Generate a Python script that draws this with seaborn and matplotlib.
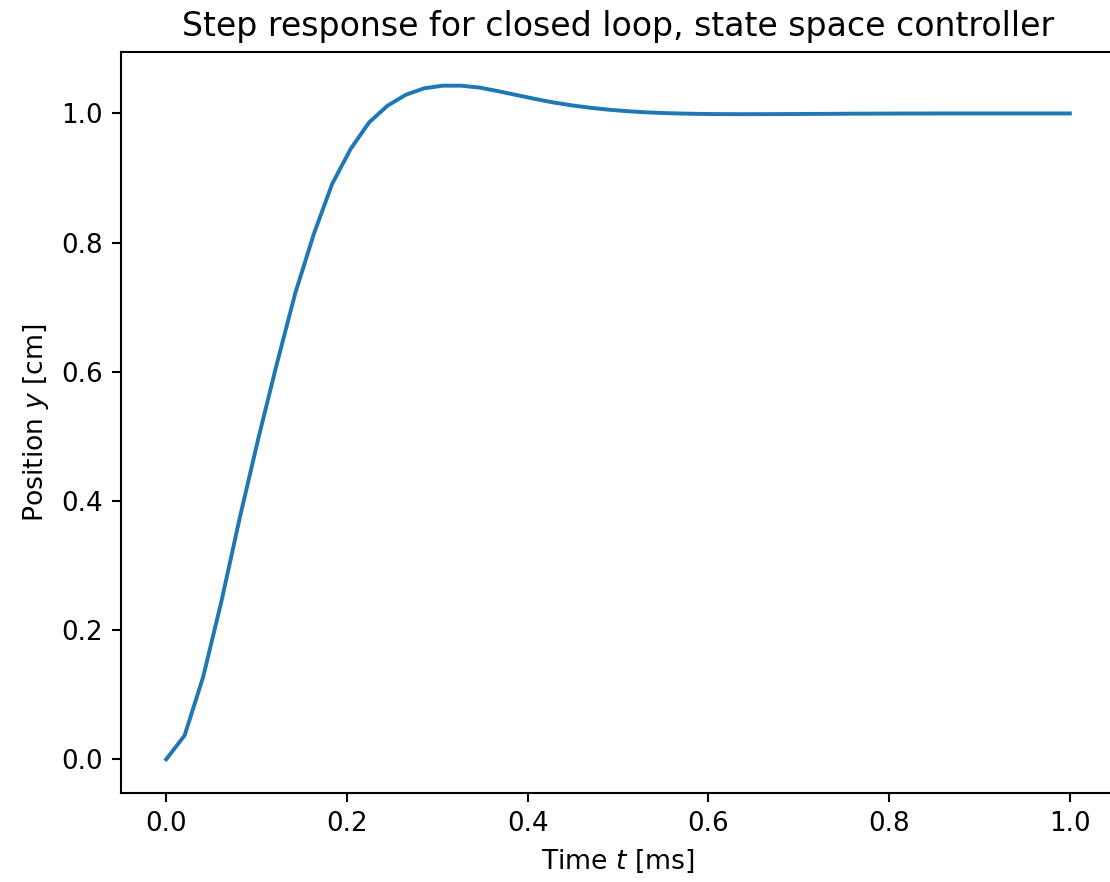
import matplotlib
matplotlib.use("Agg")
import matplotlib.pyplot as plt
import seaborn as sns
import numpy as np
import pandas as pd

# time samples [ms]
time_ms = [0.0, 0.0204, 0.0408, 0.0612, 0.0816, 0.1020, 0.1224, 0.1429, 0.1633, 0.1837,
           0.2041, 0.2245, 0.2449, 0.2653, 0.2857, 0.3061, 0.3265, 0.3469, 0.3673, 0.3878,
           0.4082, 0.4286, 0.4490, 0.4694, 0.4898, 0.5102, 0.5306, 0.5510, 0.5714, 0.5918,
           0.6122, 0.6327, 0.6531, 0.6735, 0.6939, 0.7143, 0.7347, 0.7551, 0.7755, 0.7959,
           0.8163, 0.8367, 0.8571, 0.8776, 0.8980, 0.9184, 0.9388, 0.9592, 0.9796, 1.0]
# position [cm]
position_cm = [0.0000, 0.0370, 0.1270, 0.2450, 0.3750, 0.4970, 0.6120, 0.7220, 0.8130, 0.8910,
               0.9450, 0.9860, 1.0120, 1.0290, 1.0390, 1.0430, 1.0430, 1.0400, 1.0345, 1.0285,
               1.0225, 1.0170, 1.0125, 1.0088, 1.0058, 1.0035, 1.0018, 1.0006, 0.9998, 0.9993,
               0.9990, 0.9989, 0.9989, 0.9990, 0.9991, 0.9993, 0.9994, 0.9996, 0.9997, 0.9998,
               0.9999, 0.9999, 1.0000, 1.0000, 1.0000, 1.0000, 1.0000, 1.0000, 1.0000, 1.0000]

df = pd.DataFrame({"t": time_ms, "y": position_cm})

DPI = 188
fig = plt.figure(figsize=(1110 / DPI, 882 / DPI), dpi=DPI)
ax = fig.add_axes([121 / 1110, (882 - 793) / 882, 994 / 1110, 741 / 882])
sns.lineplot(data=df, x="t", y="y", ax=ax, color="#1f77b4", linewidth=1.5)
ax.set_title("Step response for closed loop, state space controller", fontsize=12.7)
ax.set_xlabel("Time $t$ [ms]", fontsize=10.2)
ax.set_ylabel("Position $y$ [cm]", fontsize=10.2)
ax.tick_params(labelsize=10)
ax.set_xticks([0.0, 0.2, 0.4, 0.6, 0.8, 1.0])
ax.set_yticks([0.0, 0.2, 0.4, 0.6, 0.8, 1.0])
fig.savefig("out.png", dpi=DPI)
